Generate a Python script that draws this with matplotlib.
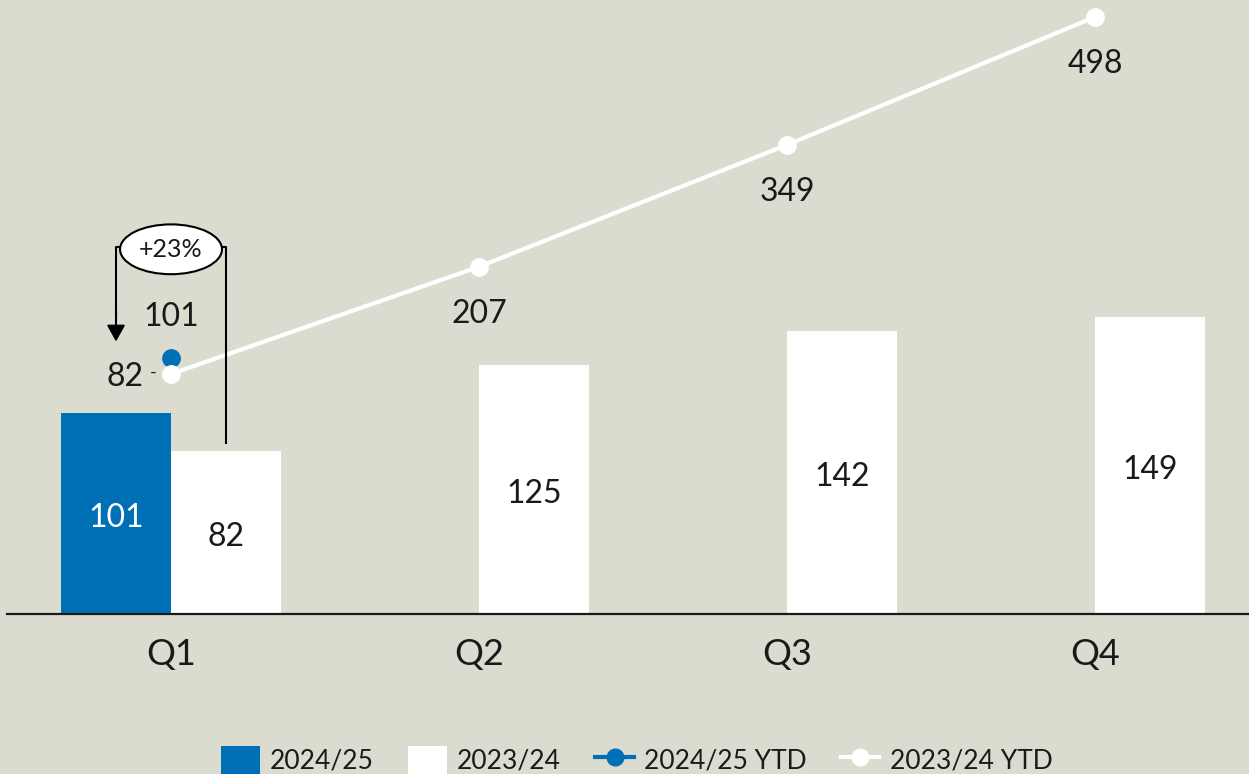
import matplotlib
matplotlib.use("Agg")
import matplotlib.pyplot as plt
import numpy as np
from matplotlib.patches import Ellipse, Patch
from matplotlib.lines import Line2D

# data
quarters = ["Q1", "Q2", "Q3", "Q4"]
sales_2425 = [101]                      # only Q1 reported so far
sales_2324 = [82, 125, 142, 149]
ytd_2425 = [101]
ytd_2324 = [82, 207, 349, 498]
legend_labels = ["2024/25", "2023/24", "2024/25 YTD", "2023/24 YTD"]

BG = "#dcdbcf"
BLUE = "#0070b6"
INK = "#1a1a1a"
plt.rcParams["font.family"] = ["Lato", "DejaVu Sans"]

fig = plt.figure(figsize=(12.49, 7.74), dpi=100)
fig.patch.set_facecolor(BG)
ax = fig.add_axes([0, 0, 1, 1])
ax.set_facecolor(BG)

x = np.arange(len(quarters))
w = 0.357
ax.set_xlim(-0.5552, 3.5)
ax.set_ylim(-80.3, 308.1)

b1 = ax.bar(x[:len(sales_2425)] - w / 2, sales_2425, w, color=BLUE, zorder=2)
b2 = ax.bar(x + w / 2, sales_2324, w, color="white", zorder=2)
# value labels sit a touch below the bar middle
for r, v in zip(b1, sales_2425):
    ax.text(r.get_x() + r.get_width() / 2, v / 2 - 2.5, f"{v}", ha="center", va="center",
            fontsize=23, color="white", zorder=3)
for r, v in zip(b2, sales_2324):
    ax.text(r.get_x() + r.get_width() / 2, v / 2 - 2.5, f"{v}", ha="center", va="center",
            fontsize=23, color=INK, zorder=3)

for s in ["top", "left", "right"]:
    ax.spines[s].set_visible(False)
ax.spines["bottom"].set_position(("data", 0))
ax.spines["bottom"].set_bounds(-0.5325, 3.5)
ax.spines["bottom"].set_linewidth(1.6)
ax.spines["bottom"].set_color(INK)
ax.spines["bottom"].set_zorder(4)
ax.set_xticks(x, quarters)
ax.set_yticks([])
ax.tick_params(axis="x", length=0, labelsize=26, pad=17, colors=INK)

# YTD lines on their own scale
ax2 = ax.twinx()
ax2.set_ylim(-384.1, 517.8)
ax2.axis("off")
ax2.plot(x, ytd_2324, color="white", lw=3, marker="o", ms=12.5, zorder=3)
ax2.plot(x[:len(ytd_2425)], ytd_2425, color=BLUE, lw=3, marker="o", ms=12.5, zorder=2)
for xi, v in zip(x[1:], ytd_2324[1:]):
    ax2.annotate(f"{v}", (xi, v), xytext=(0, -34), textcoords="offset points",
                 ha="center", va="center", fontsize=23, color=INK)
ax2.annotate(f"{ytd_2324[0]}", (x[0], ytd_2324[0]), xytext=(-20, -2), textcoords="offset points",
             ha="right", va="center", fontsize=23, color=INK)
ax2.annotate("-", (x[0], ytd_2324[0]), xytext=(-13, 1), textcoords="offset points",
             ha="center", va="center", fontsize=13, color=INK)
ax2.annotate(f"{ytd_2425[0]}", (x[0], ytd_2425[0]), xytext=(0, 29.5), textcoords="offset points",
             ha="center", va="center", fontsize=23, color=INK)

# +23% bracket, drawn in bar units
xl, xr = x[0] - w / 2, x[0] + w / 2
top_y = 184
ew, eh = 0.331, 25
tr = ax.transData
ax2.plot([-ew / 2, xl, xl], [top_y, top_y, 150], color="black", lw=1.5, transform=tr, zorder=5)
ax2.annotate("", xy=(xl, 136.7), xytext=(xl, 152), xycoords=tr, textcoords=tr,
             arrowprops=dict(arrowstyle="-|>,head_width=0.25,head_length=0.45", color="black",
                             lw=1.5, mutation_scale=22, shrinkA=0, shrinkB=0), zorder=5)
ax2.plot([ew / 2, xr, xr], [top_y, top_y, sales_2324[0] + 4], color="black", lw=1.5,
         transform=tr, zorder=5)
ax2.add_patch(Ellipse((x[0], top_y - 1), ew, eh, facecolor="white", edgecolor="black",
                      lw=1.5, transform=tr, zorder=6))
pct = (sales_2425[0] / sales_2324[0] - 1) * 100
ax2.text(x[0], top_y - 1, f"+{pct:.0f}%", ha="center", va="center", fontsize=18,
         color=INK, transform=tr, zorder=7)

handles = [Patch(facecolor=BLUE), Patch(facecolor="white"),
           Line2D([], [], color=BLUE, lw=3, marker="o", ms=12),
           Line2D([], [], color="white", lw=3, marker="o", ms=12)]
fig.legend(handles, legend_labels, loc="center", bbox_to_anchor=(0.51, 14 / 774), ncol=4,
           frameon=False, fontsize=19, handlelength=1.45, handleheight=1.3,
           handletextpad=0.4, columnspacing=1.3, labelcolor=INK)

fig.savefig("out.png", dpi=100, facecolor=BG)
